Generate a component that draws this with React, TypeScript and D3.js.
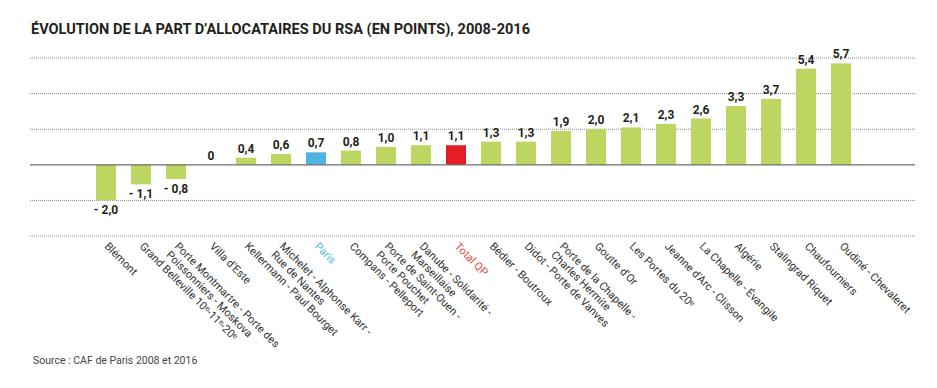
import React, { useRef, useEffect } from 'react';
import * as d3 from 'd3';

// --- Data ---
const categories = [
  'Blémont',
  'Grand Belleville 10ᵉ-11ᵉ-20ᵉ',
  'Porte Montmartre - Porte des\nPoissonniers - Moskova',
  "Villa d'Este",
  'Kellermann - Paul Bourget',
  'Michelet - Alphonse Karr -\nRue de Nantes',
  'Paris',
  'Compans - Pelleport',
  'Porte de Saint-Ouen -\nPorte Pouchet',
  'Danube - Solidarité -\nMarseillaise',
  'Total QP',
  'Bédier - Boutroux',
  'Didot - Porte de Vanves',
  'Porte de la Chapelle -\nCharles Hermite',
  "Goutte d'Or",
  'Les Portes du 20ᵉ',
  "Jeanne d'Arc - Clisson",
  'La Chapelle - Évangile',
  'Algérie',
  'Stalingrad Riquet',
  'Chaufourniers',
  'Oudiné - Chevaleret',
];
const values = [-2.0, -1.1, -0.8, 0, 0.4, 0.6, 0.7, 0.8, 1.0, 1.1, 1.1, 1.3, 1.3, 1.9, 2.0, 2.1, 2.3, 2.6, 3.3, 3.7, 5.4, 5.7];
const gridTicks = [-4, -2, 0, 2, 4, 6];
const title = 'ÉVOLUTION DE LA PART D’ALLOCATAIRES DU RSA (EN POINTS), 2008-2016';
const source = 'Source : CAF de Paris 2008 et 2016';

const FONT = '"Roboto", sans-serif';

const App = () => {
  const svgRef = useRef<SVGSVGElement>(null);
  const width = 937;
  const height = 388;

  useEffect(() => {
    const svg = d3.select(svgRef.current)
      .attr('width', width)
      .attr('height', height)
      .html('');

    const xScale = d3.scaleBand<string>()
      .domain(categories)
      .range([88.5, 858.5])
      .paddingInner(15 / 35)
      .paddingOuter(7.5 / 35);

    const yScale = d3.scaleLinear()
      .domain([-4, 6])
      .range([236, 58]);

    // Title (condensed look)
    svg.append('text')
      .attr('x', 31)
      .attr('y', 34)
      .attr('textLength', 499)
      .attr('lengthAdjust', 'spacingAndGlyphs')
      .style('font-family', FONT)
      .style('font-weight', 'bold')
      .style('font-size', '15.5px')
      .style('fill', '#231f20')
      .text(title);

    // Grid lines
    svg.append('g')
      .selectAll('line')
      .data(gridTicks.filter(t => t !== 0))
      .join('line')
      .attr('x1', 30)
      .attr('x2', 915)
      .attr('y1', d => yScale(d))
      .attr('y2', d => yScale(d))
      .attr('stroke', '#8a8a8a')
      .attr('stroke-width', 1)
      .attr('stroke-dasharray', '1,1');

    // Bars
    const colorFor = (c: string) => c === 'Paris' ? '#4fb3e3' : c === 'Total QP' ? '#e41e25' : '#bdd662';
    svg.append('g')
      .selectAll('rect')
      .data(values)
      .join('rect')
      .attr('x', (d, i) => xScale(categories[i]) as number)
      .attr('width', xScale.bandwidth())
      .attr('y', d => yScale(Math.max(0, d)))
      .attr('height', d => Math.abs(yScale(d) - yScale(0)))
      .attr('fill', (d, i) => colorFor(categories[i]));

    // Zero line
    svg.append('line')
      .attr('x1', 30)
      .attr('x2', 915)
      .attr('y1', yScale(0))
      .attr('y2', yScale(0))
      .attr('stroke', '#6d6d6d')
      .attr('stroke-width', 1.3);

    // Value labels
    const fmt = (v: number) => {
      if (v === 0) return '0';
      const s = d3.format('.1f')(Math.abs(v)).replace('.', ',');
      return v < 0 ? '- ' + s : s;
    };
    svg.append('g')
      .selectAll('text')
      .data(values)
      .join('text')
      .attr('x', (d, i) => (xScale(categories[i]) as number) + xScale.bandwidth() / 2)
      .attr('y', d => d < 0 ? yScale(d) + 14 : yScale(d) - 5)
      .attr('text-anchor', 'middle')
      .style('font-family', FONT)
      .style('font-weight', 'bold')
      .style('font-size', '12px')
      .style('fill', '#231f20')
      .text(d => fmt(d));

    // X labels, rotated
    const labelColor = (c: string) => c === 'Paris' ? '#5bb8e6' : c === 'Total QP' ? '#e8474c' : '#333333';
    const labels = svg.append('g')
      .selectAll('text')
      .data(categories)
      .join('text')
      .attr('transform', d => `translate(${(xScale(d) as number) + xScale.bandwidth() / 2 - 2},247) rotate(45)`)
      .style('font-family', FONT)
      .style('font-size', '11px')
      .style('fill', d => labelColor(d));
    labels.each(function (d) {
      const lines = d.split('\n');
      lines.forEach((line, j) => {
        d3.select(this).append('tspan')
          .attr('x', 0)
          .attr('dy', j === 0 ? 0 : '1.1em')
          .text(line);
      });
    });

    // Source
    svg.append('text')
      .attr('x', 33)
      .attr('y', 364)
      .style('font-family', FONT)
      .style('font-size', '10.5px')
      .style('fill', '#444444')
      .text(source);
  }, []);

  return (
    <svg ref={svgRef} style={{ position: 'absolute', left: 0, top: 0, background: '#ffffff' }}></svg>
  );
};

export default App;
